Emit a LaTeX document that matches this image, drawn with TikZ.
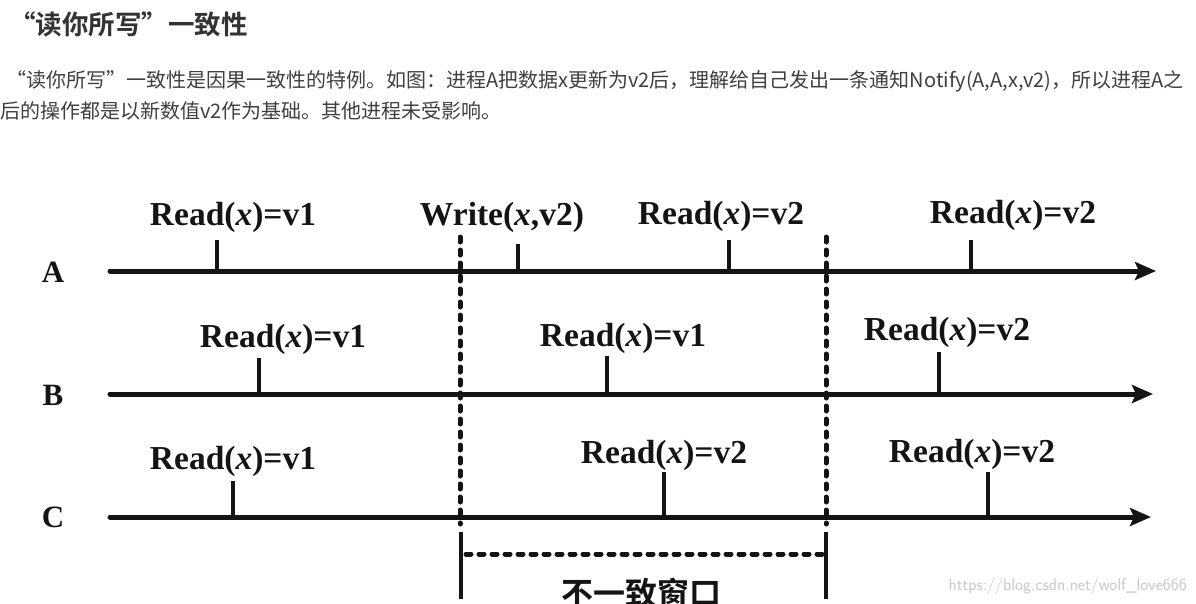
\documentclass[tikz,border=0pt]{standalone}
\usepackage{fontspec}
\setmainfont{Liberation Serif}
\newfontfamily\cjk{Noto Sans CJK SC}
\newfontfamily\cjkb{Noto Sans CJK SC Bold}
\usetikzlibrary{arrows.meta,calc}
\definecolor{titlegray}{HTML}{333333}
\definecolor{bodygray}{HTML}{3F3F3F}
\definecolor{wmgray}{HTML}{C8C8C8}
\definecolor{ink}{HTML}{141414}
\begin{document}
\begin{tikzpicture}[x=1pt,y=-1pt,
  timeline/.style={ink,line width=5pt,line cap=round,-{Stealth[length=21pt,width=18pt,inset=4pt]}},
  tick/.style={ink,line width=3.8pt},
  lbl/.style={font=\fontsize{33.5}{33.5}\selectfont\bfseries,text=ink,inner sep=0pt,anchor=base},
  proc/.style={font=\fontsize{31}{31}\selectfont\bfseries,text=ink,inner sep=0pt},
  divider/.style={ink,line width=5pt,line cap=round,dash pattern=on 5pt off 8pt},
  bar/.style={ink,line width=4.2pt},
  hdots/.style={ink,line width=5pt,line cap=round,dash pattern=on 5pt off 8pt}]
\useasboundingbox (0,0) rectangle (1196,603);
\clip (0,0) rectangle (1196,603);
\fill[white] (0,0) rectangle (1196,603);
% header text
\node[anchor=base west,inner sep=0pt,text=titlegray,font=\cjkb\fontsize{26.5}{26.5}\selectfont] (title) at (9,34) {“读你所写”一致性};
\node[anchor=base west,inner sep=0pt,text=bodygray,font=\cjk\fontsize{20}{20}\selectfont] (para1) at (6,87) {“读你所写”一致性是因果一致性的特例。如图：进程A把数据x更新为v2后，理解给自己发出一条通知Notify(A,A,x,v2)，所以进程A之};
\node[anchor=base west,inner sep=0pt,text=bodygray,font=\cjk\fontsize{20}{20}\selectfont] (para2) at (0,118) {后的操作都是以新数值v2作为基础。其他进程未受影响。};
% process labels
\node[proc] (pA) at (53,272) {A};
\node[proc] (pB) at (53,395) {B};
\node[proc] (pC) at (53,517) {C};
% timelines
\coordinate (a0) at (110,271); \coordinate (a1) at (1156,271);
\coordinate (b0) at (110,394); \coordinate (b1) at (1153,394);
\coordinate (c0) at (110,517); \coordinate (c1) at (1151,517);
\draw[timeline] (a0) -- (a1);
\draw[timeline] (b0) -- (b1);
\draw[timeline] (c0) -- (c1);
% ticks on A
\coordinate (ta1) at (217,271); \coordinate (ta1t) at (217,240);
\coordinate (ta2) at (518,271); \coordinate (ta2t) at (518,244);
\coordinate (ta3) at (729,271); \coordinate (ta3t) at (729,240);
\coordinate (ta4) at (971,271); \coordinate (ta4t) at (971,240);
\foreach \i in {1,...,4} \draw[tick] (ta\i) -- (ta\i t);
% ticks on B
\coordinate (tb1) at (259,394); \coordinate (tb1t) at (259,358);
\coordinate (tb2) at (607,394); \coordinate (tb2t) at (607,356);
\coordinate (tb3) at (939,394); \coordinate (tb3t) at (939,352);
\foreach \i in {1,...,3} \draw[tick] (tb\i) -- (tb\i t);
% ticks on C
\coordinate (tc1) at (233,517); \coordinate (tc1t) at (233,481);
\coordinate (tc2) at (664,517); \coordinate (tc2t) at (664,472);
\coordinate (tc3) at (988,517); \coordinate (tc3t) at (988,472);
\foreach \i in {1,...,3} \draw[tick] (tc\i) -- (tc\i t);
% operation labels
\node[lbl] (la1) at (233,225) {Read(\textit{x})=v1};
\node[lbl] (la2) at (502,225) {Write(\textit{x},v2)};
\node[lbl] (la3) at (721,224) {Read(\textit{x})=v2};
\node[lbl] (la4) at (1013,223) {Read(\textit{x})=v2};
\node[lbl] (lb1) at (283,347) {Read(\textit{x})=v1};
\node[lbl] (lb2) at (623,346) {Read(\textit{x})=v1};
\node[lbl] (lb3) at (947,340) {Read(\textit{x})=v2};
\node[lbl] (lc1) at (233,469) {Read(\textit{x})=v1};
\node[lbl] (lc2) at (664,463) {Read(\textit{x})=v2};
\node[lbl] (lc3) at (972,462) {Read(\textit{x})=v2};
% window dividers
\coordinate (d1t) at (460,237); \coordinate (d1b) at (460,524);
\coordinate (d2t) at (826,237); \coordinate (d2b) at (826,524);
\draw[divider] (d1t) -- (d1b);
\draw[divider] (d2t) -- (d2b);
\coordinate (w1t) at (461,532); \coordinate (w1b) at (461,599);
\coordinate (w2t) at (826,532); \coordinate (w2b) at (826,599);
\draw[bar] (w1t) -- (w1b);
\draw[bar] (w2t) -- (w2b);
\coordinate (h1) at (466,554); \coordinate (h2) at (824,554);
\draw[hdots] (h1) -- (h2);
\node[anchor=north,inner sep=0pt,text=ink,font=\cjkb\fontsize{32}{32}\selectfont] (win) at (641,578) {不一致窗口};
% watermark
\node[anchor=base east,inner sep=0pt,text=wmgray,font=\sffamily\fontsize{17}{17}\selectfont] (wm) at (1187,590) {https://blog.csdn.net/wolf\_love666};
\end{tikzpicture}
\end{document}
